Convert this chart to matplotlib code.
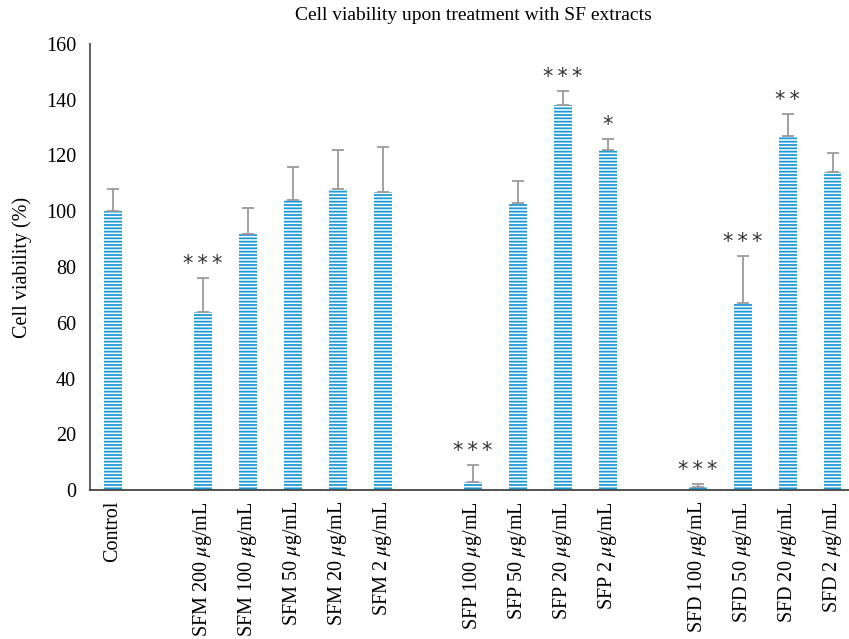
import numpy as np
import matplotlib
matplotlib.use("Agg")
import matplotlib.pyplot as plt

plt.rcParams['font.family'] = ['Liberation Serif', 'DejaVu Serif']
plt.rcParams['mathtext.fontset'] = 'stix'
plt.rcParams['hatch.linewidth'] = 1.3
plt.rcParams['hatch.color'] = '#1b9ad7'

labels = ["Control",
          "SFM 200 $\\mu$g/mL", "SFM 100 $\\mu$g/mL", "SFM 50 $\\mu$g/mL",
          "SFM 20 $\\mu$g/mL", "SFM 2 $\\mu$g/mL",
          "SFP 100 $\\mu$g/mL", "SFP 50 $\\mu$g/mL", "SFP 20 $\\mu$g/mL", "SFP 2 $\\mu$g/mL",
          "SFD 100 $\\mu$g/mL", "SFD 50 $\\mu$g/mL", "SFD 20 $\\mu$g/mL", "SFD 2 $\\mu$g/mL"]
slots = [0, 2, 3, 4, 5, 6, 8, 9, 10, 11, 13, 14, 15, 16]
values = [100, 64, 92, 104, 108, 107, 3, 103, 138, 122, 1, 67, 127, 114]
errors = [8, 12, 9, 12, 14, 16, 6, 8, 5, 4, 1, 17, 8, 7]
stars = ["", "***", "", "", "", "", "***", "", "***", "*", "***", "***", "**", ""]

fig = plt.figure(figsize=(8.49, 6.39), dpi=100)
ax = fig.add_axes([90/849, 1-490/639, 1-90/849, 446/639])

ax.bar(slots, values, width=0.4, color='white', hatch='-----', linewidth=0)
ax.errorbar(slots, values, yerr=[np.zeros(len(errors)), errors], fmt='none',
            ecolor='#9a9a9a', elinewidth=1.3, capsize=4, capthick=1.3)

for x, v, e, s in zip(slots, values, errors, stars):
    if s:
        ax.text(x, v + e + 1.5, "\u2009".join(s), ha='center', va='bottom',
                fontsize=15, color='#333333', family='DejaVu Sans')

ax.set_xlim(-0.5, (849-90)/45 - 0.5)
ax.set_ylim(0, 160)
ax.set_yticks(range(0, 161, 20))
ax.set_xticks(slots)
ax.set_xticklabels(labels, rotation=90, fontsize=14.5)
ax.tick_params(axis='y', labelsize=14.5, length=0, pad=10)
ax.tick_params(axis='x', length=0, pad=8)
for sp in ['top', 'right']:
    ax.spines[sp].set_visible(False)
ax.spines['left'].set_color('#666666')
ax.spines['left'].set_linewidth(1.5)
ax.spines['bottom'].set_color('#333333')
ax.spines['bottom'].set_linewidth(1.2)
ax.set_ylabel("Cell viability (%)", fontsize=14.5, labelpad=10)
fig.text(473/849, 1-15/639, "Cell viability upon treatment with SF extracts",
         ha='center', va='center', fontsize=14)

fig.savefig("out.png", dpi=100)
